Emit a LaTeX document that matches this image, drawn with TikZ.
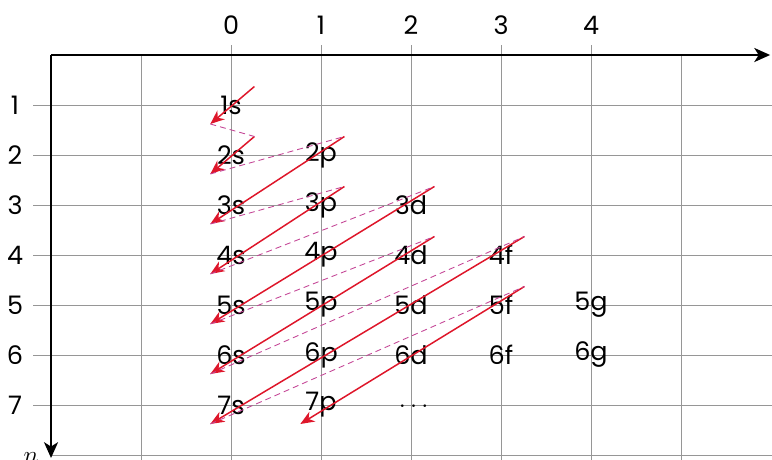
\documentclass[tikz,border=0pt]{standalone}
\usepackage{fontspec}
\setmainfont{Poppins}
\usetikzlibrary{arrows.meta,calc}

\definecolor{fillred}{RGB}{222,22,42}
\definecolor{jumppink}{RGB}{196,70,150}
\definecolor{gridgray}{RGB}{150,150,150}

\begin{document}
\begin{tikzpicture}[x=1.8cm,y=-1cm,
    orb/.style={font=\fontsize{14.5}{16}\selectfont, inner sep=0pt},
    axislabel/.style={font=\fontsize{14.5}{16}\selectfont, inner sep=0pt},
    gridline/.style={gridgray, line width=0.5pt},
    axis/.style={black, line width=1.1pt, -{Stealth[length=9pt,width=8pt,inset=2.5pt]}},
    fillarrow/.style={fillred, line width=0.85pt, -{Stealth[length=8pt,width=6.5pt,inset=2.5pt]}},
    jump/.style={jumppink, line width=0.5pt, dash pattern=on 3.4pt off 2.3pt}]
    \useasboundingbox (-2.567,-1.1) rectangle (6.011,8.1);

    % grid, with ticks on the labelled rows and columns
    \foreach \l in {-1,...,5} \draw[gridline] (\l,0) -- (\l,8.1);
    \foreach \l in {0,...,4} \draw[gridline] (\l,-0.2) -- (\l,0);
    \foreach \n in {1,...,8} \draw[gridline] (-2,\n) -- (6.011,\n);
    \foreach \n in {1,...,7} \draw[gridline] (-2.2,\n) -- (-2,\n);

    % axes
    \coordinate (O) at (-2,0);
    \coordinate (lend) at (5.99,0);
    \coordinate (nend) at (-2,8.06);
    \draw[axis] (O) -- (lend);
    \draw[axis] (O) -- (nend);
    \node[axislabel, anchor=south west] (lname) at ([shift={(1pt,3pt)}]lend) {$l$};
    \node[axislabel, anchor=north east] (nname) at ([shift={(-7pt,3.5pt)}]nend) {$n$};

    \foreach \l in {0,...,4} \node[axislabel] (col\l) at (\l,-0.6) {\l};
    \foreach \n in {1,...,7} \node[axislabel] (row\n) at (-2.4,\n) {\n};

    % orbitals
    \foreach \n/\l/\s in {1/0/s, 2/0/s, 2/1/p, 3/0/s, 3/1/p, 3/2/d,
        4/0/s, 4/1/p, 4/2/d, 4/3/f, 5/0/s, 5/1/p, 5/2/d, 5/3/f, 5/4/g,
        6/0/s, 6/1/p, 6/2/d, 6/3/f, 6/4/g, 7/0/s, 7/1/p}
        \node[orb] (o\n\s) at (\l,\n) {\n\s};
    \node[axislabel] (more) at (2.03,7.03) {$\cdots$};

    % filling order: each arrow runs from its first orbital down to its last
    \foreach \i/\a/\b in {1/1s/1s, 2/2s/2s, 3/2p/3s, 4/3p/4s,
        5/3d/5s, 6/4d/6s, 7/4f/7s, 8/5f/7p} {
        \coordinate (a\i) at ($(o\a)+(0.26,-0.37)$);
        \coordinate (b\i) at ($(o\b)+(-0.23,0.38)$);
        \draw[fillarrow] (a\i) -- (b\i);
    }
    \foreach \i [evaluate=\i as \j using int(\i+1)] in {1,...,7}
        \draw[jump] (b\i) -- (a\j);
\end{tikzpicture}
\end{document}
